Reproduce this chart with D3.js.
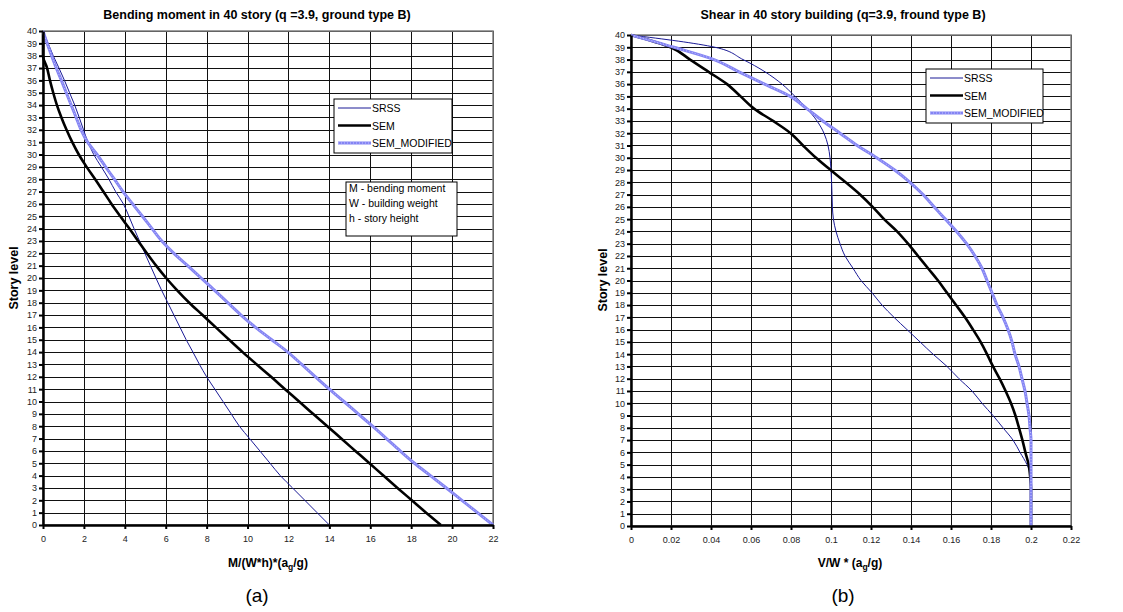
<!DOCTYPE html>
<html>
<head>
<meta charset="utf-8">
<script src="https://cdn.jsdelivr.net/npm/d3@7"></script>
<style>
  body { margin: 0; background: #fff; }
  svg text { font-family: "Liberation Sans", Arial, sans-serif; }
</style>
</head>
<body>
<script>
// two excel-style charts: bending moment (a) and shear (b) over story level

var width = 1123;
var height = 612;

// story levels 0..40 (index of every array below)
var storyLevels = d3.range(0, 41);
var storyTicks = d3.range(0, 41);

// --- chart (a): M/(W*h)*(ag/g)
var momentTicks = [0, 2, 4, 6, 8, 10, 12, 14, 16, 18, 20, 22];
var momentSRSS = [14.0, 13.4, 12.8, 12.2, 11.6, 11.1, 10.6, 10.1, 9.6, 9.2, 8.8, 8.4, 8.0,
  7.65, 7.33, 7.0, 6.7, 6.4, 6.1, 5.8, 5.52, 5.25, 4.98, 4.72, 4.45, 4.2, 3.93, 3.55,
  3.22, 2.85, 2.48, 2.2, 1.98, 1.77, 1.55, 1.3, 1.05, 0.78, 0.5, 0.25, 0];
var momentSEM = [19.45, 18.73, 18.03, 17.33, 16.64, 15.96, 15.27, 14.58, 13.9, 13.2, 12.52,
  11.83, 11.15, 10.45, 9.76, 9.1, 8.45, 7.8, 7.15, 6.56, 6.02, 5.53, 5.08, 4.65, 4.22, 3.78,
  3.35, 2.95, 2.55, 2.13, 1.75, 1.43, 1.15, 0.9, 0.68, 0.5, 0.34, 0.2, 0, 0, 0];
var momentMod = [22.0, 21.24, 20.48, 19.72, 18.94, 18.16, 17.46, 16.79, 16.11, 15.41, 14.71,
  14.0, 13.32, 12.65, 11.97, 11.18, 10.39, 9.68, 9.03, 8.39, 7.73, 7.07, 6.4, 5.81, 5.33,
  4.86, 4.38, 3.91, 3.49, 3.06, 2.64, 2.18, 1.86, 1.62, 1.38, 1.14, 0.9, 0.65, 0.42, 0.2, 0];

// --- chart (b): V/W * (ag/g)
var shearTicks = [0, 0.02, 0.04, 0.06, 0.08, 0.1, 0.12, 0.14, 0.16, 0.18, 0.2, 0.22];
var shearSRSS = [0.2, 0.2, 0.2, 0.2, 0.2, 0.198, 0.1945, 0.191, 0.186, 0.181, 0.1755, 0.1705,
  0.164, 0.158, 0.151, 0.1445, 0.138, 0.1315, 0.1255, 0.1205, 0.115, 0.111, 0.107, 0.1045,
  0.1025, 0.1012, 0.1007, 0.1005, 0.1003, 0.1, 0.0995, 0.0985, 0.0965, 0.093, 0.088, 0.082,
  0.0755, 0.067, 0.056, 0.042, 0];
var shearSEM = [0.2, 0.2, 0.2, 0.2, 0.1996, 0.1988, 0.1972, 0.1957, 0.194, 0.1922, 0.19, 0.1873,
  0.1843, 0.181, 0.178, 0.1748, 0.171, 0.167, 0.1625, 0.158, 0.1535, 0.1485, 0.1435, 0.1385,
  0.133, 0.1265, 0.1208, 0.1145, 0.1073, 0.0998, 0.0925, 0.086, 0.0798, 0.071, 0.0615, 0.0548,
  0.048, 0.0388, 0.0295, 0.0198, 0];
var shearMod = [0.2, 0.2, 0.2, 0.2, 0.2, 0.2, 0.2, 0.2, 0.1995, 0.199, 0.198, 0.197, 0.1955,
  0.194, 0.192, 0.1905, 0.1885, 0.186, 0.183, 0.1805, 0.178, 0.1755, 0.172, 0.1678, 0.1628,
  0.1572, 0.1515, 0.146, 0.1395, 0.1318, 0.1228, 0.1131, 0.1045, 0.0959, 0.0879, 0.0797,
  0.0668, 0.054, 0.0415, 0.0215, 0];

var seriesNames = ["SRSS", "SEM", "SEM_MODIFIED"];
var noteLines = ["M - bending moment", "W - building weight", "h - story height"];

var svg = d3.select("body").append("svg")
    .attr("width", width)
    .attr("height", height);

// line looks, same order as seriesNames
var styles = [
  { color: "#1a1a96", w: 1 },
  { color: "#000", w: 2.6 },
  { color: "#8484f4", w: 3, dotted: true }
];

var drawLine = function(g, path, st) {
  g.append("path").attr("d", path)
    .attr("fill", "none")
    .attr("stroke", st.color)
    .attr("stroke-width", st.w)
    .attr("stroke-linejoin", "round");
  if (st.dotted) {
    g.append("path").attr("d", path)
      .attr("fill", "none")
      .attr("stroke", "#fff")
      .attr("stroke-width", 1)
      .attr("stroke-opacity", 0.55)
      .attr("stroke-dasharray", "1,2");
  }
};

var drawChart = function(cfg) {
  var g = svg.append("g");
  var x = d3.scaleLinear().domain([0, cfg.ticks[cfg.ticks.length - 1]]).range([cfg.x0, cfg.x1]);
  var y = d3.scaleLinear().domain([0, 40]).range([cfg.y1, cfg.y0]);

  // grid
  g.append("g").selectAll("line").data(cfg.ticks.slice(1))
    .enter().append("line")
    .attr("x1", function(d) { return Math.round(x(d)) + 0.5; })
    .attr("x2", function(d) { return Math.round(x(d)) + 0.5; })
    .attr("y1", cfg.y0).attr("y2", cfg.y1)
    .attr("stroke", "#111").attr("stroke-width", 1);
  g.append("g").selectAll("line").data(storyTicks.slice(1))
    .enter().append("line")
    .attr("x1", cfg.x0).attr("x2", cfg.x1)
    .attr("y1", function(d) { return Math.round(y(d)) + 0.5; })
    .attr("y2", function(d) { return Math.round(y(d)) + 0.5; })
    .attr("stroke", "#111").attr("stroke-width", 1);
  g.append("rect")
    .attr("x", cfg.x0).attr("y", cfg.y0)
    .attr("width", cfg.x1 - cfg.x0).attr("height", cfg.y1 - cfg.y0)
    .attr("fill", "none").attr("stroke", "#808080").attr("stroke-width", 1.5);

  // series (smoothed like excel)
  var line = d3.line()
    .curve(d3.curveMonotoneY)
    .x(function(d) { return x(d.v); })
    .y(function(d) { return y(d.s); });
  cfg.series.forEach(function(vals, i) {
    var pts = storyLevels.map(function(s, k) { return { s: s, v: vals[k] }; });
    drawLine(g, line(pts), styles[i]);
  });

  // axes
  var yAxis = g.append("g")
    .attr("transform", "translate(" + cfg.x0 + ",0)")
    .call(d3.axisLeft(y).tickValues(storyTicks).tickSize(4).tickSizeOuter(0).tickPadding(2));
  var xAxis = g.append("g")
    .attr("transform", "translate(0," + cfg.y1 + ")")
    .call(d3.axisBottom(x).tickValues(cfg.ticks).tickSize(4).tickSizeOuter(0).tickPadding(7)
      .tickFormat(function(d) { return String(+d.toFixed(2)); }));
  [yAxis, xAxis].forEach(function(a) {
    a.select(".domain").attr("stroke", "#000").attr("stroke-width", 2.5);
    a.selectAll(".tick line").attr("stroke", "#000").attr("stroke-width", 2);
    a.selectAll(".tick text").attr("fill", "#222").style("font-size", "9px");
  });

  // titles
  g.append("text").attr("x", cfg.titleX).attr("y", 19)
    .attr("text-anchor", "middle").style("font-size", "12.5px").style("font-weight", "bold")
    .text(cfg.title);
  var xt = g.append("text").attr("x", cfg.xTitleX).attr("y", 567)
    .attr("text-anchor", "middle").style("font-size", "12px").style("font-weight", "bold");
  xt.append("tspan").text(cfg.xTitle[0]);
  xt.append("tspan").attr("dy", 3).style("font-size", "8.5px").text("g");
  xt.append("tspan").attr("dy", -3).text(cfg.xTitle[1]);
  g.append("text")
    .attr("transform", "translate(" + (cfg.yTitleX) + "," + cfg.yTitleY + ") rotate(-90)")
    .attr("text-anchor", "middle").style("font-size", "12.5px").style("font-weight", "bold")
    .text("Story level");
  g.append("text").attr("x", cfg.titleX).attr("y", 602)
    .attr("text-anchor", "middle").style("font-size", "19px")
    .style("font-family", "'Liberation Sans Narrow', 'Liberation Sans', Arial, sans-serif")
    .text(cfg.label);

  // legend
  var lg = g.append("g").attr("transform", "translate(" + cfg.legX + "," + cfg.legY + ")");
  lg.append("rect").attr("width", cfg.legW).attr("height", 54)
    .attr("fill", "#fff").attr("stroke", "#000").attr("stroke-width", 1);
  seriesNames.forEach(function(name, i) {
    var yy = 9 + i * 17.5;
    drawLine(lg, "M4," + yy + "H37", styles[i]);
    lg.append("text").attr("x", 38).attr("y", yy + 4)
      .style("font-size", "10.5px").attr("fill", "#000").text(name);
  });

  return g;
};

drawChart({
  x0: 43, x1: 493, y0: 31, y1: 525,
  ticks: momentTicks,
  series: [momentSRSS, momentSEM, momentMod],
  title: "Bending moment in 40 story (q =3.9, ground type B)",
  titleX: 257,
  xTitle: ["M/(W*h)*(a", "/g)"], xTitleX: 268,
  yTitleX: 18, yTitleY: 278,
  label: "(a)",
  legX: 334, legY: 99, legW: 118
});

drawChart({
  x0: 631, x1: 1071, y0: 35, y1: 526,
  ticks: shearTicks,
  series: [shearSRSS, shearSEM, shearMod],
  title: "Shear in 40 story building (q=3.9, fround type B)",
  titleX: 843,
  xTitle: ["V/W * (a", "/g)"], xTitleX: 850,
  yTitleX: 607, yTitleY: 280,
  label: "(b)",
  legX: 926, legY: 69, legW: 117
});

// note box in chart (a)
var note = svg.append("g").attr("transform", "translate(346,182)");
note.append("rect").attr("width", 111).attr("height", 54)
  .attr("fill", "#fff").attr("stroke", "#000").attr("stroke-width", 1);
note.selectAll("text").data(noteLines).enter().append("text")
  .attr("x", 3).attr("y", function(d, i) { return 10 + i * 15; })
  .style("font-size", "10.5px")
  .text(function(d) { return d; });
</script>
</body>
</html>
